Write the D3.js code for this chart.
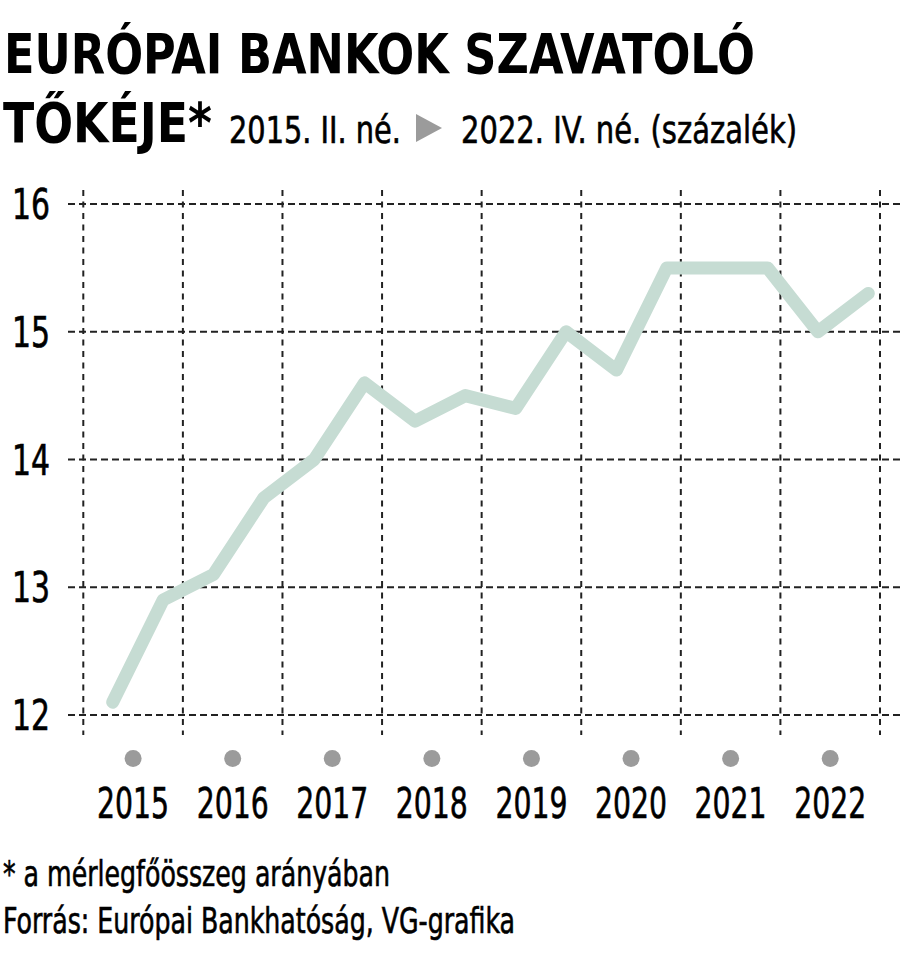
<!DOCTYPE html>
<html><head><meta charset="utf-8">
<script src="https://cdn.jsdelivr.net/npm/d3@7"></script>
<style>
html,body{margin:0;padding:0;background:#fff;}
text{font-family:"Liberation Sans Narrow","DejaVu Sans Condensed","Roboto",sans-serif;fill:#000;}
text.reg{stroke:#000;stroke-width:0.6px;}
</style></head>
<body>
<svg id="chart" width="900" height="966"></svg>
<script>
// ---- data ----
const periods = ["2015 II","2015 IV","2016 II","2016 IV","2017 II","2017 IV","2018 II","2018 IV",
                 "2019 II","2019 IV","2020 II","2020 IV","2021 II","2021 IV","2022 II","2022 IV"];
const values  = [12.1, 12.9, 13.1, 13.7, 14.0, 14.6, 14.3, 14.5,
                 14.4, 15.0, 14.7, 15.5, 15.5, 15.5, 15.0, 15.3];
const years   = ["2015","2016","2017","2018","2019","2020","2021","2022"];
const yTicks  = [12, 13, 14, 15, 16];

const svg = d3.select("#chart");

// ---- scales ----
const y = d3.scaleLinear().domain([12, 16]).range([715, 204]);
const xYear = d3.scaleBand().domain(years).range([83.3, 880]).padding(0);
const xPt = d3.scalePoint().domain(periods).range([112.7, 868.3]);

// ---- title ----
svg.append("text").attr("x", 4).attr("y", 73)
  .attr("font-size", 56).attr("font-weight", "bold")
  .attr("textLength", 751).attr("lengthAdjust", "spacingAndGlyphs")
  .text("EURÓPAI BANKOK SZAVATOLÓ");
svg.append("text").attr("x", 3).attr("y", 142)
  .attr("font-size", 56).attr("font-weight", "bold")
  .attr("textLength", 209).attr("lengthAdjust", "spacingAndGlyphs")
  .text("TŐKÉJE*");
svg.append("text").attr("class", "reg").attr("x", 229).attr("y", 143)
  .attr("font-size", 37)
  .attr("textLength", 172).attr("lengthAdjust", "spacingAndGlyphs")
  .text("2015. II. né.");
svg.append("path")
  .attr("d", d3.line()([[416,114],[442,128],[416,142]]) + "Z")
  .attr("fill", "#9b9b9b");
svg.append("text").attr("class", "reg").attr("x", 461).attr("y", 143)
  .attr("font-size", 37)
  .attr("textLength", 336).attr("lengthAdjust", "spacingAndGlyphs")
  .text("2022. IV. né. (százalék)");

// ---- grid ----
const grid = svg.append("g");
grid.selectAll("line.h").data(yTicks).join("line")
  .attr("x1", 68).attr("x2", 900)
  .attr("y1", d => y(d)).attr("y2", d => y(d))
  .attr("stroke", "#222").attr("stroke-width", 2)
  .attr("stroke-dasharray", "7,4");
const vBounds = years.map(d => xYear(d)).concat([xYear(years[years.length-1]) + xYear.bandwidth()]);
grid.selectAll("line.v").data(vBounds).join("line")
  .attr("x1", d => d).attr("x2", d => d)
  .attr("y1", 190).attr("y2", 735)
  .attr("stroke", "#222").attr("stroke-width", 2)
  .attr("stroke-dasharray", "6,5.5");

// ---- y labels ----
svg.selectAll("text.yl").data(yTicks).join("text")
  .attr("class", "reg")
  .attr("x", 50).attr("y", d => y(d) + 15)
  .attr("text-anchor", "end").attr("font-size", 43)
  .attr("textLength", 38).attr("lengthAdjust", "spacingAndGlyphs")
  .text(d => d);

// ---- line ----
svg.append("path")
  .datum(values)
  .attr("d", d3.line().x((d, i) => xPt(periods[i])).y(d => y(d)))
  .attr("fill", "none").attr("stroke", "#c6dcd3")
  .attr("stroke-width", 13).attr("stroke-linecap", "round").attr("stroke-linejoin", "round");

// ---- x axis dots & labels ----
svg.selectAll("circle.yd").data(years).join("circle")
  .attr("cx", d => xYear(d) + xYear.bandwidth()/2).attr("cy", 758.5)
  .attr("r", 8.5).attr("fill", "#9b9b9b");
svg.selectAll("text.xl").data(years).join("text")
  .attr("class", "reg")
  .attr("x", d => xYear(d) + xYear.bandwidth()/2 - 36).attr("y", 818)
  .attr("font-size", 43)
  .attr("textLength", 72).attr("lengthAdjust", "spacingAndGlyphs")
  .text(d => d);

// ---- footer ----
svg.append("text").attr("class", "reg").attr("x", 3).attr("y", 886)
  .attr("font-size", 35)
  .attr("textLength", 387).attr("lengthAdjust", "spacingAndGlyphs")
  .text("* a mérlegfőösszeg arányában");
svg.append("text").attr("class", "reg").attr("x", 3).attr("y", 933)
  .attr("font-size", 35)
  .attr("textLength", 512).attr("lengthAdjust", "spacingAndGlyphs")
  .text("Forrás: Európai Bankhatóság, VG-grafika");
</script>
</body></html>
